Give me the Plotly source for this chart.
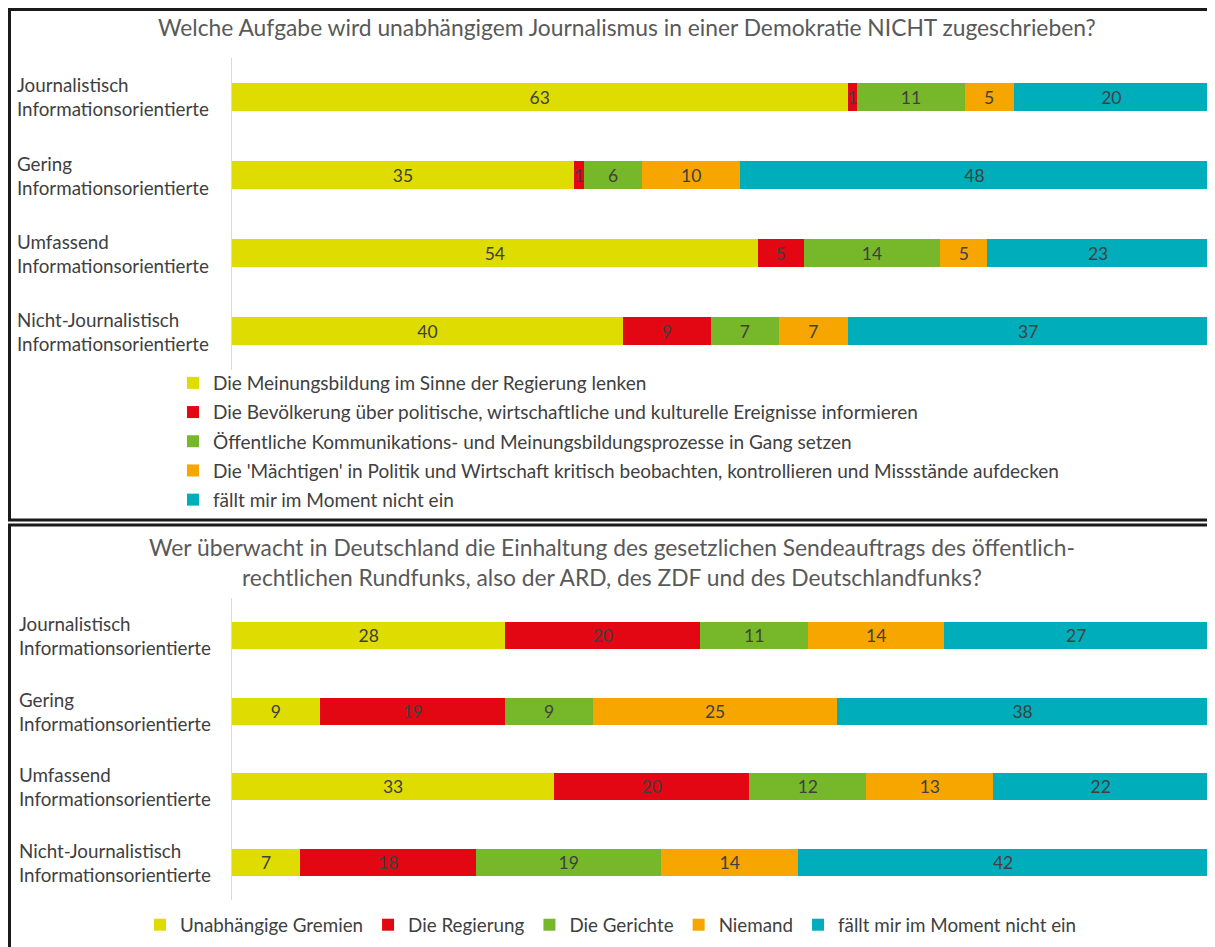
import plotly.graph_objects as go

# page offset (browser body margin) compensation
OFF = 8
W, H = 1215 - OFF, 947 - OFF

groups = ["Journalistisch<br>Informationsorientierte",
          "Gering<br>Informationsorientierte",
          "Umfassend<br>Informationsorientierte",
          "Nicht-Journalistisch<br>Informationsorientierte"]

title1 = "Welche Aufgabe wird unabhängigem Journalismus in einer Demokratie NICHT zugeschrieben?"
series1 = ["Die Meinungsbildung im Sinne der Regierung lenken",
           "Die Bevölkerung über politische, wirtschaftliche und kulturelle Ereignisse informieren",
           "Öffentliche Kommunikations- und Meinungsbildungsprozesse in Gang setzen",
           "Die 'Mächtigen' in Politik und Wirtschaft kritisch beobachten, kontrollieren und Missstände aufdecken",
           "fällt mir im Moment nicht ein"]
values1 = [
    [63, 35, 53.8, 40],
    [1, 1, 4.7, 9],
    [11, 6, 14.0, 7],
    [5, 10, 4.8, 7],
    [20, 48, 22.7, 37],
]

title2 = ("Wer überwacht in Deutschland die Einhaltung des gesetzlichen Sendeauftrags des öffentlich-<br>"
          "rechtlichen Rundfunks, also der ARD, des ZDF und des Deutschlandfunks?")
series2 = ["Unabhängige Gremien", "Die Regierung", "Die Gerichte", "Niemand",
           "fällt mir im Moment nicht ein"]
values2 = [
    [28, 9, 33, 7],
    [20, 19, 20, 18],
    [11, 9, 12, 19],
    [14, 25, 13, 14],
    [27, 38, 22, 42],
]

colors = ["#DEDC00", "#E30613", "#76B82A", "#F7A600", "#00ADBB"]

FONT = "Lato"
TXT = "#404040"
LBL = 18.8


def px(p):
    return (p - OFF) / W


def py(p):
    return 1 - (p - OFF) / H


fig = go.Figure()

for i, (name, vals) in enumerate(zip(series1, values1)):
    fig.add_trace(go.Bar(
        y=groups, x=vals, name=name, orientation="h",
        marker=dict(color=colors[i], line=dict(width=0)),
        text=vals, texttemplate="%{x:.0f}", textposition="inside",
        insidetextanchor="middle", textangle=0,
        insidetextfont=dict(color=TXT, size=17.5, family=FONT),
        xaxis="x", yaxis="y", legend="legend", legendgroup="a%d" % i,
        hoverinfo="x+name", cliponaxis=False))

for i, (name, vals) in enumerate(zip(series2, values2)):
    fig.add_trace(go.Bar(
        y=groups, x=vals, name=name, orientation="h",
        marker=dict(color=colors[i], line=dict(width=0)),
        text=vals, texttemplate="%{x:.0f}", textposition="inside",
        insidetextanchor="middle", textangle=0,
        insidetextfont=dict(color=TXT, size=17.5, family=FONT),
        xaxis="x2", yaxis="y2", legend="legend2",
        hoverinfo="x+name", cliponaxis=False))

ax_common = dict(showgrid=False, zeroline=False, showticklabels=False,
                 ticks="", showline=False, range=[0, 100], fixedrange=True)

annotations = []
for g in groups:
    annotations.append(dict(text=g, xref="paper", yref="y", x=px(15), y=g,
                            xanchor="left", align="left", showarrow=False,
                            font=dict(family=FONT, size=LBL, color=TXT)))
    annotations.append(dict(text=g, xref="paper", yref="y2", x=px(17), y=g,
                            xanchor="left", align="left", showarrow=False,
                            font=dict(family=FONT, size=LBL, color=TXT)))

annotations.append(dict(text=title1, xref="paper", yref="paper", x=px(627), y=py(27),
                        xanchor="center", yanchor="middle", showarrow=False,
                        font=dict(family=FONT, size=22.8, color="#595959")))
annotations.append(dict(text=title2, xref="paper", yref="paper", x=px(612), y=py(562),
                        xanchor="center", yanchor="middle", showarrow=False,
                        font=dict(family=FONT, size=22.8, color="#595959")))

shapes = [
    dict(type="rect", xref="paper", yref="paper", x0=px(9.5), x1=1.05, y0=py(520), y1=py(9.5),
         line=dict(color="#1a1a1a", width=3), layer="above"),
    dict(type="rect", xref="paper", yref="paper", x0=px(9.5), x1=1.05, y0=-0.05, y1=py(525),
         line=dict(color="#1a1a1a", width=3), layer="above"),
]

fig.update_layout(
    width=W, height=H, margin=dict(l=0, r=0, t=0, b=0),
    paper_bgcolor="white", plot_bgcolor="white",
    barmode="stack", bargap=0.64,
    font=dict(family=FONT, color=TXT, size=16),
    uniformtext=dict(mode="show", minsize=17),
    xaxis=dict(domain=[px(232), px(1209)], anchor="y", **ax_common),
    yaxis=dict(domain=[py(370), py(58)], anchor="x", type="category",
               categoryarray=groups, range=[3.5, -0.5], showgrid=False,
               showticklabels=False, ticks="", showline=True, linecolor="#d9d9d9",
               linewidth=1, zeroline=False, fixedrange=True),
    xaxis2=dict(domain=[px(232), px(1208)], anchor="y2", **ax_common),
    yaxis2=dict(domain=[py(900), py(598)], anchor="x2", type="category",
                categoryarray=groups, range=[3.5, -0.5], showgrid=False,
                showticklabels=False, ticks="", showline=True, linecolor="#d9d9d9",
                linewidth=1, zeroline=False, fixedrange=True),
    legend=dict(x=px(173), y=py(364), xanchor="left", yanchor="top",
                orientation="v", traceorder="grouped", tracegroupgap=1.5,
                font=dict(family=FONT, size=19, color=TXT),
                bgcolor="rgba(0,0,0,0)", itemclick=False, itemdoubleclick=False),
    legend2=dict(x=px(140), y=py(925), xanchor="left", yanchor="middle",
                 orientation="h", traceorder="normal",
                 font=dict(family=FONT, size=LBL, color=TXT),
                 bgcolor="rgba(0,0,0,0)", itemclick=False, itemdoubleclick=False),
    annotations=annotations, shapes=shapes, showlegend=True,
)

fig.write_html("out.html")
